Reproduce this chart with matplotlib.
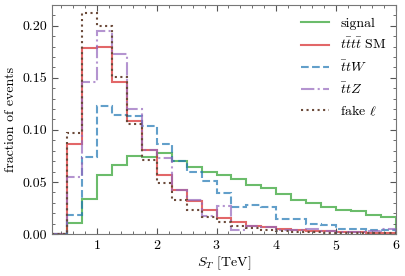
import numpy as np
import matplotlib
matplotlib.use("Agg")
import matplotlib.pyplot as plt
from matplotlib.ticker import MultipleLocator

plt.rcParams['font.family'] = 'serif'
plt.rcParams['font.serif'] = ['cmr10', 'DejaVu Serif']
plt.rcParams['mathtext.fontset'] = 'cm'
plt.rcParams['axes.formatter.use_mathtext'] = True
plt.rcParams['font.size'] = 10

bin_edges = [0.25, 0.5, 0.75, 1.0, 1.25, 1.5, 1.75, 2.0, 2.25, 2.5, 2.75, 3.0,
             3.25, 3.5, 3.75, 4.0, 4.25, 4.5, 4.75, 5.0, 5.25, 5.5, 5.75, 6.0]

signal = [0, 0.011, 0.034, 0.057, 0.066, 0.075, 0.074, 0.078, 0.070, 0.064, 0.060, 0.057,
          0.053, 0.047, 0.044, 0.038, 0.033, 0.030, 0.026, 0.023, 0.022, 0.018, 0.016]
tttt_sm = [0, 0.086, 0.179, 0.180, 0.146, 0.109, 0.081, 0.057, 0.042, 0.032, 0.023, 0.015,
           0.012, 0.008, 0.0065, 0.0045, 0.0038, 0.003, 0.0026, 0.002, 0.0015, 0.0013, 0.001]
ttw = [0, 0.018, 0.074, 0.123, 0.114, 0.113, 0.104, 0.086, 0.070, 0.060, 0.051, 0.039,
       0.026, 0.028, 0.026, 0.0145, 0.0145, 0.0096, 0.0087, 0.005, 0.005, 0.004, 0.004]
ttz = [0, 0.055, 0.146, 0.195, 0.173, 0.120, 0.081, 0.073, 0.042, 0.033, 0.017, 0.027,
       0.004, 0.0075, 0.007, 0.004, 0.004, 0.0045, 0.003, 0.0022, 0.0022, 0.003, 0.0048]
fake = [0, 0.097, 0.212, 0.200, 0.151, 0.106, 0.071, 0.049, 0.033, 0.023, 0.016, 0.012,
        0.0077, 0.006, 0.004, 0.003, 0.0022, 0.0015, 0.0012, 0.001, 0.0008, 0.0006, 0.0005]

labels = ["signal", r"$t\bar{t}t\bar{t}$ SM", r"$\bar{t}tW$", r"$\bar{t}tZ$", r"fake $\ell$"]
series = [signal, tttt_sm, ttw, ttz, fake]
colors = ["#2ca02c", "#d62728", "#1f77b4", "#9467bd", "#6b4a3a"]
styles = ["-", "-", "--", "-.", ":"]
alphas = [0.7, 0.7, 0.7, 0.7, 1.0]

fig = plt.figure(figsize=(4.06, 2.76), dpi=100)
ax = fig.add_axes([52/406, 1 - 234/276, (396-52)/406, (234-5)/276])

for vals, lab, c, ls, a in zip(series, labels, colors, styles, alphas):
    ax.stairs(vals, bin_edges, label=lab, color=c, linestyle=ls, alpha=a, linewidth=1.5)

ax.set_xlim(0.25, 6)
ax.set_ylim(0, 0.22)
ax.xaxis.set_major_locator(MultipleLocator(1))
ax.xaxis.set_minor_locator(MultipleLocator(0.2))
ax.yaxis.set_major_locator(MultipleLocator(0.05))
ax.yaxis.set_minor_locator(MultipleLocator(0.01))
ax.yaxis.set_major_formatter(matplotlib.ticker.FormatStrFormatter('%.2f'))
ax.tick_params(which='both', direction='in', top=True, right=True, colors='#555555', labelcolor='black')
ax.tick_params(which='major', length=4)
ax.tick_params(which='minor', length=2)
for s in ax.spines.values():
    s.set_color('#777777')

ax.set_xlabel(r"$S_T$ [TeV]", labelpad=1)
ax.set_ylabel("fraction of events")
ax.legend(loc='upper right', frameon=False, bbox_to_anchor=(1.01, 1.0), handlelength=2.0)

fig.savefig("out.png", dpi=100)
